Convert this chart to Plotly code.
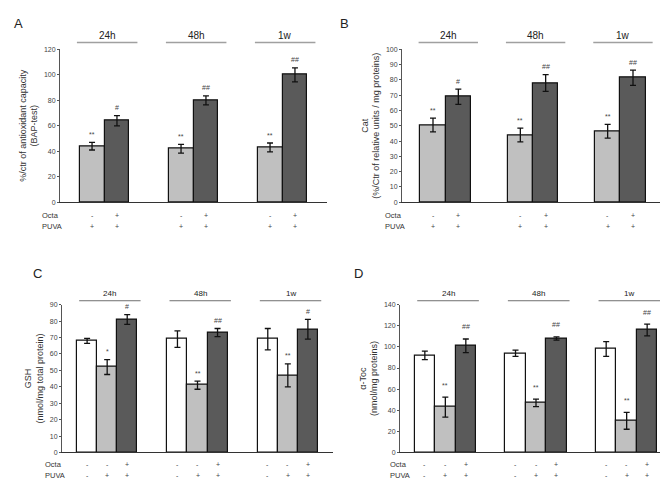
import plotly.graph_objects as go

times = ["24h", "48h", "1w"]

# Panel A: antioxidant capacity (BAP-test)
a_puva = [44, 42, 43]
a_puva_err = [3, 3.5, 3.5]
a_octa = [64, 80, 100]
a_octa_err = [4, 3.5, 5.5]
a_marks_puva = ["**", "**", "**"]
a_marks_octa = ["#", "##", "##"]

# Panel B: catalase
b_puva = [50.5, 44, 46.5]
b_puva_err = [4.5, 4.5, 4.5]
b_octa = [69, 78, 81.5]
b_octa_err = [5, 5.5, 5]
b_marks_puva = ["**", "**", "**"]
b_marks_octa = ["#", "##", "##"]

# Panel C: GSH
c_ctrl = [68, 69, 69]
c_ctrl_err = [1.5, 5, 6.5]
c_puva = [52, 41, 47]
c_puva_err = [4.5, 2.5, 7]
c_octa = [81, 73, 75]
c_octa_err = [3, 2.5, 6]
c_marks_puva = ["*", "**", "**"]
c_marks_octa = ["#", "##", "#"]

# Panel D: alpha-tocopherol
d_ctrl = [92, 94, 98]
d_ctrl_err = [4, 3, 7]
d_puva = [43, 47, 30]
d_puva_err = [9.5, 3.5, 8]
d_octa = [101, 108, 116]
d_octa_err = [6.5, 1.5, 5.5]
d_marks_puva = ["**", "**", "**"]
d_marks_octa = ["##", "##", "##"]

octa_2 = ["-", "+"]
puva_2 = ["+", "+"]
octa_3 = ["-", "-", "+"]
puva_3 = ["-", "+", "+"]

WHITE, LIGHT, DARK = "#ffffff", "#c0c0c0", "#5a5a5a"
FONT = "Liberation Sans, Arial, sans-serif"

W, H = 668, 481


def px_x(x):
    return x / W


def px_y(y):
    return 1 - y / H


fig = go.Figure()

panels = [
    dict(
        name="A", ax="", dx=(52, 319), dy=(38, 193), yr=120, dt=20,
        series=[(a_puva, a_puva_err, LIGHT, a_marks_puva), (a_octa, a_octa_err, DARK, a_marks_octa)],
        width=0.28, octa=octa_2, puva=puva_2,
        title="%/ctr of antioxidant capacity<br>(BAP-test)",
        letter=(10, 12), head_font=10, rows=(207, 218), row_lbl=32, head=(24, 31),
        head_line=dict(color="#a0a0a0", width=1.6), mark_shift=8,
    ),
    dict(
        name="B", ax="2", dx=(394, 656), dy=(38, 193), yr=100, dt=10,
        series=[(b_puva, b_puva_err, LIGHT, b_marks_puva), (b_octa, b_octa_err, DARK, b_marks_octa)],
        width=0.29, octa=octa_2, puva=puva_2,
        title="Cat<br>(%/Ctr of relative units / mg proteins)",
        letter=(336, 12), head_font=10, rows=(207, 218), row_lbl=375, head=(24, 31),
        head_line=dict(color="#a0a0a0", width=1.6), mark_shift=8,
    ),
    dict(
        name="C", ax="3", dx=(54, 325), dy=(297, 447), yr=90, dt=10,
        series=[(c_ctrl, c_ctrl_err, WHITE, None), (c_puva, c_puva_err, LIGHT, c_marks_puva),
                (c_octa, c_octa_err, DARK, c_marks_octa)],
        width=0.222, octa=octa_3, puva=puva_3,
        title="GSH<br>(nmol/mg total protein)",
        letter=(29, 265), head_font=8, rows=(459, 470), row_lbl=35, head=(286, 293),
        head_line=dict(color="#707070", width=1), mark_shift=8,
    ),
    dict(
        name="D", ax="4", dx=(392, 664), dy=(297, 447), yr=140, dt=20,
        series=[(d_ctrl, d_ctrl_err, WHITE, None), (d_puva, d_puva_err, LIGHT, d_marks_puva),
                (d_octa, d_octa_err, DARK, d_marks_octa)],
        width=0.226, octa=octa_3, puva=puva_3,
        title="α-Toc<br>(nmol/mg proteins)",
        letter=(351, 265), head_font=8, rows=(459, 470), row_lbl=380, head=(286, 293),
        head_line=dict(color="#707070", width=1), mark_shift=12,
    ),
]

annotations = []
shapes = []

for p in panels:
    xa, ya = "x" + p["ax"], "y" + p["ax"]
    n = len(p["series"])
    w = p["width"]
    offsets = [(i - (n - 1) / 2) * w for i in range(n)]

    for (vals, errs, color, marks), off in zip(p["series"], offsets):
        xs = [g + off for g in range(len(times))]
        fig.add_trace(go.Bar(
            x=xs, y=vals, width=w, xaxis=xa, yaxis=ya,
            marker=dict(color=color, line=dict(color="#111111", width=1.2)),
            error_y=dict(type="data", array=errs, color="#111111", thickness=1.3, width=3),
            showlegend=False,
        ))
        if marks:
            for x, v, e, m in zip(xs, vals, errs, marks):
                annotations.append(dict(
                    x=x, y=v + e, xref=xa, yref=ya, text=m, showarrow=False,
                    yanchor="middle", yshift=p["mark_shift"],
                    font=dict(family=FONT, size=7, color="#444444"),
                ))

    # Octa / PUVA sign rows and time headers
    for g in range(len(times)):
        for i, off in enumerate(offsets):
            for sign, row_y in ((p["octa"][i], p["rows"][0]), (p["puva"][i], p["rows"][1])):
                annotations.append(dict(
                    x=g + off, y=px_y(row_y), xref=xa, yref="paper", text=sign,
                    showarrow=False, yanchor="middle",
                    font=dict(family=FONT, size=7, color="#444444"),
                ))
        annotations.append(dict(
            x=g + 0.03, y=px_y(p["head"][0]), xref=xa, yref="paper", text=times[g],
            showarrow=False, yanchor="middle",
            font=dict(family=FONT, size=p["head_font"], color="#222222"),
        ))
        shapes.append(dict(
            type="line", xref=xa, yref="paper",
            x0=g - 0.31, x1=g + 0.37, y0=px_y(p["head"][1]), y1=px_y(p["head"][1]),
            line=p["head_line"],
        ))

    for lbl, row_y in (("Octa", p["rows"][0]), ("PUVA", p["rows"][1])):
        annotations.append(dict(
            x=px_x(p["row_lbl"]), y=px_y(row_y), xref="paper", yref="paper", text=lbl,
            showarrow=False, xanchor="left", yanchor="middle",
            font=dict(family=FONT, size=7.5, color="#333333"),
        ))
    annotations.append(dict(
        x=px_x(p["letter"][0]), y=px_y(p["letter"][1]), xref="paper", yref="paper",
        text=p["name"], showarrow=False, xanchor="center", yanchor="middle",
        font=dict(family=FONT, size=13, color="#222222"),
    ))

    fig.update_layout(**{
        "xaxis" + p["ax"]: dict(
            domain=[px_x(p["dx"][0]), px_x(p["dx"][1])], range=[-0.5, 2.5],
            showticklabels=False, ticks="", showgrid=False, zeroline=False,
            showline=True, linecolor="#333333", linewidth=1.2, anchor=ya, fixedrange=True,
        ),
        "yaxis" + p["ax"]: dict(
            domain=[px_y(p["dy"][1]), px_y(p["dy"][0])], range=[0, p["yr"]], dtick=p["dt"],
            showgrid=False, zeroline=False, showline=True, linecolor="#555555", linewidth=1,
            ticks="outside", ticklen=2, tickcolor="#555555", anchor=xa,
            tickfont=dict(family=FONT, size=7, color="#444444"),
            title=dict(text=p["title"], standoff=4, font=dict(family=FONT, size=9, color="#333333")),
        ),
    })

fig.update_layout(
    width=W, height=H, margin=dict(l=0, r=0, t=0, b=0),
    paper_bgcolor="white", plot_bgcolor="white",
    barmode="overlay", bargap=0,
    annotations=annotations, shapes=shapes,
    font=dict(family=FONT),
)

fig.write_html("out.html")
